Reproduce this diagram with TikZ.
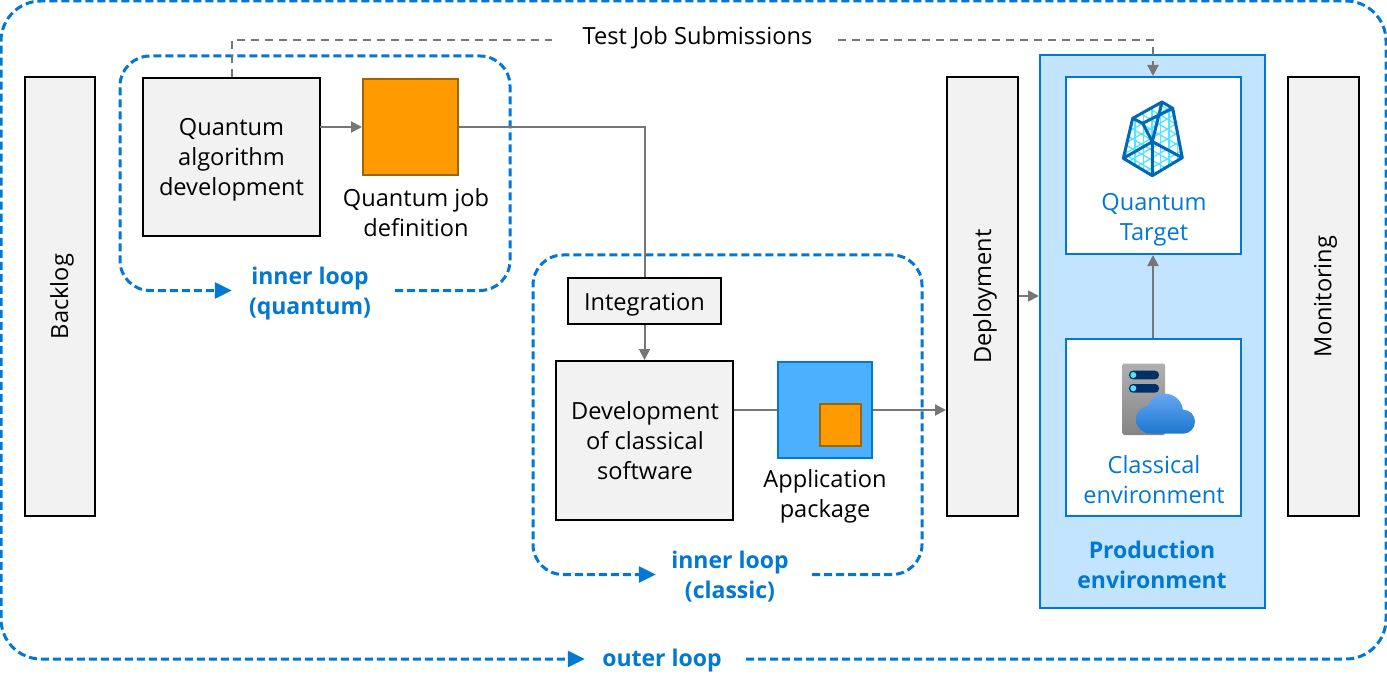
\documentclass[tikz,border=0pt]{standalone}
\usepackage{fontspec}
\setmainfont{Open Sans}
\usetikzlibrary{arrows.meta}
\definecolor{azure}{HTML}{0078D4}
\definecolor{conn}{HTML}{767676}
\definecolor{boxfill}{HTML}{F2F2F2}
\definecolor{jobfill}{HTML}{FF9B00}
\definecolor{jobedge}{HTML}{9C6500}
\definecolor{prodfill}{HTML}{C2E4FF}
\definecolor{pkgfill}{HTML}{4DB0FF}
\definecolor{meshline}{HTML}{50E6FF}
\definecolor{meshedge}{HTML}{0067B8}
\definecolor{srvbar}{HTML}{003067}
\definecolor{srvtop}{HTML}{B0B0B0}
\definecolor{srvbot}{HTML}{858585}
\definecolor{cloudtop}{HTML}{6AA6F2}
\definecolor{cloudbot}{HTML}{1B77D0}
\tikzset{
  x=1pt,y=-1pt,
  txt/.style={font=\fontsize{23.6}{30}\selectfont,align=center,inner sep=0pt,text=black},
  bluetxt/.style={txt,text=azure},
  looptxt/.style={font=\fontsize{23}{30}\selectfont\bfseries,align=center,inner sep=0pt,text=azure},
  blackbox/.style={draw=black,line width=2pt,fill=boxfill,inner sep=0pt},
  bluebox/.style={draw=azure,line width=2pt,fill=white,inner sep=0pt},
  conline/.style={draw=conn,line width=2pt},
  conarrow/.style={conline,-{Triangle[length=11pt,width=11pt]}},
  testline/.style={draw=conn,line width=2pt,dash pattern=on 8pt off 6pt},
  loopline/.style={draw=azure,line width=3pt,dash pattern=on 8pt off 4pt,rounded corners=30pt,-{Triangle[length=17pt,width=16pt]}}
}
\newcommand{\bx}[5]{\node[#1,minimum width=#4-#2,minimum height=#5-#3] at ({(#2+#4)/2},{(#3+#5)/2})}
\begin{document}
\begin{tikzpicture}
\useasboundingbox (0,0) rectangle (1387,687);
\fill[white] (0,0) rectangle (1387,687);
% loops
\node[looptxt,minimum width=160pt] (outerlbl) at (662,661) {outer loop};
\node[looptxt,minimum width=160pt] (iqlbl) at (310,293.5) {inner loop\\(quantum)};
\node[looptxt,minimum width=156pt] (iclbl) at (730,576.5) {inner loop\\(classic)};
\draw[loopline,rounded corners=40pt] ([shift={(4pt,2pt)}]outerlbl.east) -- (1386,659) -- (1386,1) -- (1,1) -- (1,659) -- ([shift={(3pt,2pt)}]outerlbl.west);
\draw[loopline] ([shift={(5pt,3pt)}]iqlbl.east) -- (510,290.5) -- (510,56) -- (120,56) -- (120,290.5) -- ([shift={(2pt,3pt)}]iqlbl.west);
\draw[loopline] ([shift={(4pt,2pt)}]iclbl.east) -- (922,574.5) -- (922,255) -- (533,255) -- (533,574.5) -- ([shift={(4pt,2pt)}]iclbl.west);
% boxes
\bx{blackbox}{25}{77}{95}{516} (backlog) {};
\node[txt,rotate=90] at ([xshift=2pt]backlog.center) {Backlog};
\bx{blackbox}{143}{78}{320}{236} (qa) {};
\node[txt] at (231.5,160) {Quantum\\algorithm\\development};
\bx{draw=jobedge,line width=2pt,fill=jobfill,inner sep=0pt}{363}{79}{458}{175} (job) {};
\node[txt] (joblbl) at (416,213) {Quantum job\\definition};
\bx{blackbox}{568}{278}{721}{324} (integ) {};
\node[txt] at (644.5,305) {Integration};
\bx{blackbox}{556}{361}{733}{520} (dev) {};
\node[txt] at (645,441) {Development\\of classical\\software};
\bx{draw=azure,line width=2pt,fill=pkgfill,inner sep=0pt}{778}{362}{872}{458} (pkg) {};
\bx{draw=jobedge,line width=2pt,fill=jobfill,inner sep=0pt}{820}{404}{861}{446} (pkgjob) {};
\node[txt] (pkglbl) at (825,496) {Application\\package};
\bx{blackbox}{947}{77}{1018}{516} (deploy) {};
\node[txt,rotate=90] at ([xshift=2.5pt]deploy.center) {Deployment};
\bx{draw=azure,line width=2pt,fill=prodfill,inner sep=0pt}{1040}{55}{1265}{608} (prod) {};
\bx{bluebox}{1066}{77}{1241}{254} (target) {};
\bx{bluebox}{1066}{339}{1241}{516} (classical) {};
\node[bluetxt] at (1154,219.5) {Quantum\\Target};
\node[bluetxt] at (1154,480) {Classical\\environment};
\node[looptxt] at (1152,565) {Production\\environment};
\bx{blackbox}{1288}{77}{1359}{516} (monitor) {};
\node[txt,rotate=90] at ([xshift=2pt]monitor.center) {Monitoring};
% test job label
\node[txt,minimum width=286pt] (testjob) at (695,40) {\hspace*{5pt}\raisebox{8pt}{Test Job Submissions}};
% connectors
\draw[conarrow] (320,127) -- (job.west |- 0,127);
\draw[conline] (job.east |- 0,127) -| (integ.north);
\draw[conarrow] (integ.south) -- (dev.north);
\draw[conline] (dev.east |- 0,410) -- (pkg.west |- 0,410);
\draw[conarrow] (pkg.east |- 0,410) -- (deploy.west |- 0,410);
\draw[conarrow] (deploy.east |- 0,296) -- (prod.west |- 0,296);
\draw[conarrow] (classical.north -| 1153,0) -- (target.south -| 1153,0);
\draw[testline] (qa.north) |- (testjob.west);
\draw[testline,-{Triangle[length=11pt,width=11pt]}] (testjob.east) -| (target.north -| 1153,0);
% quantum target icon
\begin{scope}
\clip (1162,102) -- (1172.7,108.3) -- (1182.3,157.7) -- (1152.3,175.7) -- (1123.3,158.3) -- (1132.7,118.3) -- cycle;
\foreach \k in {-6,...,8}{
  \draw[meshline,line width=1.3pt] (1152+\k*8.5,95) -- (1152+\k*8.5,180);
  \draw[meshline,line width=1.3pt] (1100,100+\k*10+20) -- (1200,158+\k*10+20);
  \draw[meshline,line width=1.3pt] (1100,158+\k*10+20) -- (1200,100+\k*10+20);
}
\end{scope}
\draw[color=meshedge,line width=3pt,line join=round,line cap=round]
  (1162,102) -- (1172.7,108.3) -- (1182.3,157.7) -- (1152.3,175.7) -- (1123.3,158.3) -- (1132.7,118.3) -- cycle
  (1132.7,118.3) -- (1142.7,123.3) -- (1172.7,108.3)
  (1142.7,123.3) -- (1152.3,141.7) -- (1162,102)
  (1152.3,141.7) -- (1152.3,175.7)
  (1123.3,158.3) -- (1152.3,141.7) -- (1182.3,157.7);
% classical icon
\shade[top color=srvtop,bottom color=srvbot,rounded corners=2pt] (1122.5,363.5) rectangle (1165,435);
\fill[srvbar,rounded corners=4pt] (1129,370.7) rectangle (1159,379.3);
\fill[srvbar,rounded corners=4pt] (1129,384) rectangle (1159,392.7);
\fill[meshline] (1133.3,375) circle (3pt) (1133.3,388.3) circle (3pt);
\begin{scope}
\clip (1165,411.7) circle (18pt) (1150,419.5) circle (14pt) (1183,421.7) circle (12pt) (1150,420) rectangle (1183,433.7);
\shade[top color=cloudtop,bottom color=cloudbot] (1130,393) rectangle (1200,434);
\end{scope}
\end{tikzpicture}
\end{document}
